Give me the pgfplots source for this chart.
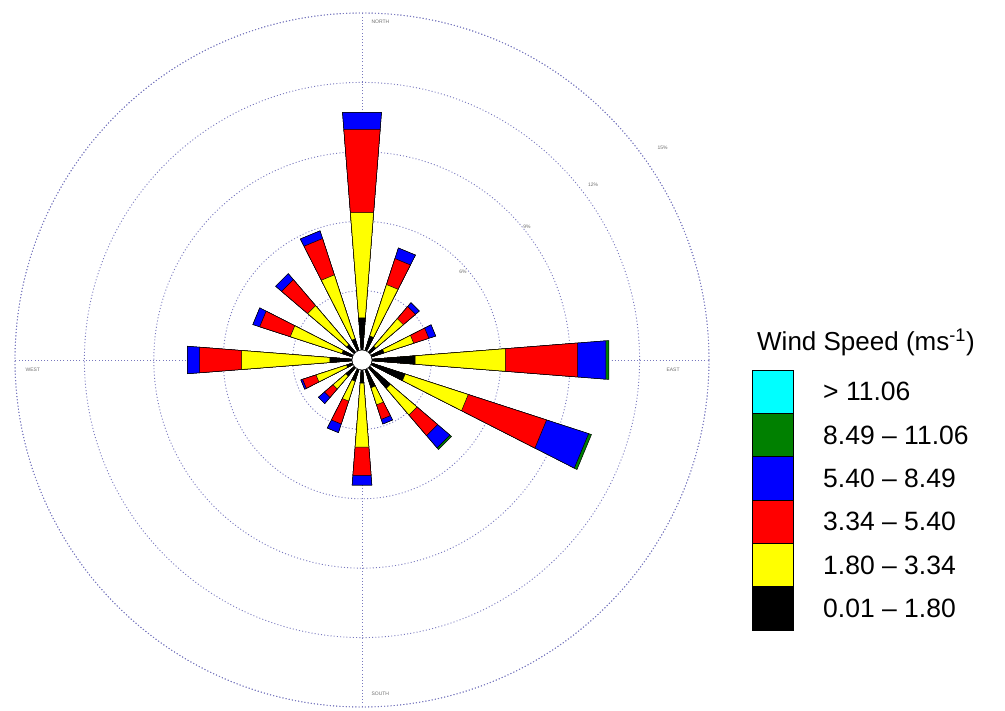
\documentclass[border=0pt]{standalone}
\usepackage{pgfplots}
\pgfplotsset{compat=1.18}
\usepgfplotslibrary{polar}
\usepackage{fontspec}
\setmainfont{Liberation Sans}
\definecolor{gridc}{RGB}{120,120,190}
\definecolor{wgreen}{RGB}{0,128,0}
\definecolor{wcyan}{RGB}{0,255,255}
\definecolor{wblue}{RGB}{0,0,255}
\definecolor{wred}{RGB}{255,0,0}
\definecolor{wyellow}{RGB}{255,255,0}
\definecolor{lbl}{RGB}{110,110,110}
% one wedge: colour, angle from, angle to, radius (cumulative %)
\newcommand{\wedg}[4]{\addplot[draw=black, line width=0.5pt, fill=#1] coordinates {(0,0) (#2,#4) (#3,#4)} -- cycle;}
% one direction: angle from, angle to, cumulative: black, yellow, red, blue, green
\newcommand{\rose}[7]{%
\wedg{wgreen}{#1}{#2}{#7}
\wedg{wblue}{#1}{#2}{#6}
\wedg{wred}{#1}{#2}{#5}
\wedg{wyellow}{#1}{#2}{#4}
\wedg{black}{#1}{#2}{#3}}
\begin{document}
\begin{tikzpicture}
\begin{polaraxis}[
  scale only axis, width=694pt, height=694pt,
  ymin=0, ymax=15, ytick={3,6,9,12,15}, xtick={0,90,180,270},
  xticklabels={}, yticklabels={},
  major tick length=0pt,
  grid=major,
  major grid style={gridc, dash pattern=on 1pt off 2.2pt, line width=0.9pt},
  axis line style={gridc, dash pattern=on 1pt off 2.2pt, line width=0.9pt},
  clip=false,
]
\coordinate (C) at (axis cs:0,0);
\node[font=\fontsize{5}{6}\selectfont, text=lbl] at (axis cs:45,3.0) {3\%};
\node[font=\fontsize{5}{6}\selectfont, text=lbl] at (axis cs:41.1,5.79) {6\%};
\node[font=\fontsize{5}{6}\selectfont, text=lbl] at (axis cs:38.9,9.16) {9\%};
\node[font=\fontsize{5}{6}\selectfont, text=lbl] at (axis cs:37.1,12.53) {12\%};
\node[font=\fontsize{5}{6}\selectfont, text=lbl] at (axis cs:35.2,15.9) {15\%};
% N
\rose{85.5}{94.5}{1.83}{6.39}{10.0}{10.74}{10.74}
% NNE
\rose{63}{72}{1.09}{3.43}{4.61}{5.09}{5.09}
% NE
\rose{40.5}{49.5}{0.78}{2.35}{3.04}{3.26}{3.26}
% ENE
\rose{18}{27}{1.0}{2.35}{3.04}{3.35}{3.35}
% E
\rose{-4.5}{4.5}{2.3}{6.22}{9.35}{10.57}{10.7}
% ESE
\rose{-27}{-18}{1.96}{4.83}{8.39}{10.3}{10.43}
% SE
\rose{-49.5}{-40.5}{1.61}{3.13}{4.3}{5.0}{5.09}
% SSE
\rose{-72}{-63}{1.26}{2.04}{2.7}{2.91}{2.91}
% S
\rose{-94.5}{-85.5}{1.0}{3.78}{5.0}{5.43}{5.43}
% SSW
\rose{-117}{-108}{0.96}{1.87}{2.91}{3.3}{3.3}
% SW
\rose{-139.5}{-130.5}{0.91}{1.65}{2.13}{2.48}{2.48}
% WSW
\rose{-162}{-153}{0.7}{2.09}{2.7}{2.78}{2.78}
% W
\rose{175.5}{184.5}{1.39}{5.22}{7.04}{7.57}{7.57}
% WNW
\rose{153}{162}{0.91}{3.26}{4.65}{4.96}{4.96}
% NW
\rose{130.5}{139.5}{0.87}{3.09}{4.57}{4.91}{4.91}
% NNW
\rose{108}{117}{0.96}{3.87}{5.52}{5.87}{5.87}
\end{polaraxis}
\fill[white] (C) circle[radius=10pt];
\draw[black, line width=0.5pt] (C) circle[radius=10pt];
\begin{scope}[shift={(C)}, x=1pt, y=1pt]
\node[font=\fontsize{5}{6}\selectfont, text=lbl, anchor=west] at (6,338) {NORTH};
\node[font=\fontsize{5}{6}\selectfont, text=lbl, anchor=west] at (6,-334) {SOUTH};
\node[font=\fontsize{5}{6}\selectfont, text=lbl, anchor=west] at (-340,-10) {WEST};
\node[font=\fontsize{5}{6}\selectfont, text=lbl, anchor=west] at (301,-10) {EAST};
% legend
\node[font=\fontsize{26}{31}\selectfont, anchor=base west, inner sep=0pt] at (395,9) {Wind Speed (ms\textsuperscript{-1})};
\foreach \c/\t [count=\i from 0] in {wcyan/{> 11.06}, wgreen/{8.49 -- 11.06}, wblue/{5.40 -- 8.49}, wred/{3.34 -- 5.40}, wyellow/{1.80 -- 3.34}, black/{0.01 -- 1.80}}{
  \filldraw[fill=\c, draw=black, line width=0.6pt] (390,{-10-43.33*\i}) rectangle (431,{-10-43.33*(\i+1)});
  \node[font=\fontsize{26.5}{31}\selectfont, anchor=west, inner sep=0pt] at (461,{-10-43.33*(\i+0.5)}) {\t};
}
\end{scope}
\pgfresetboundingbox
\path[use as bounding box] (C) ++(-362pt,360pt) rectangle ++(1005pt,-711pt);
\end{tikzpicture}
\end{document}
